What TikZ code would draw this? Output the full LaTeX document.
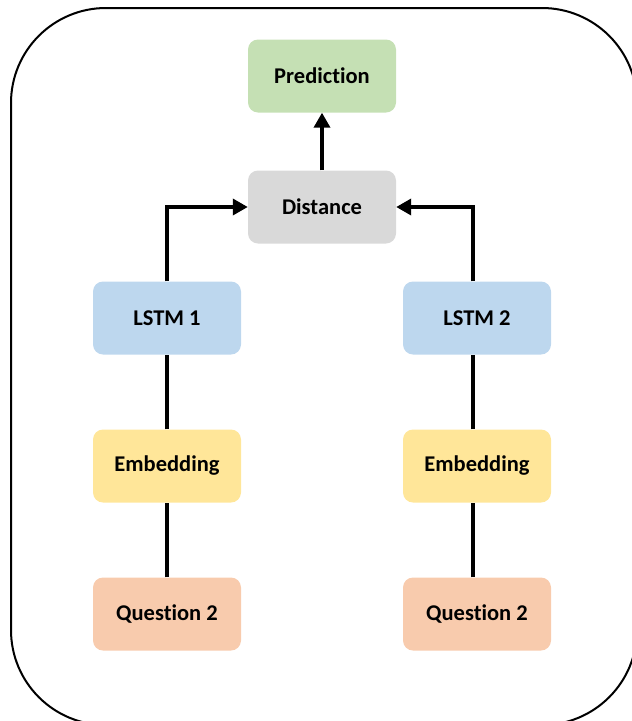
\documentclass[tikz,border=0pt]{standalone}
\usepackage{fontspec}
\setmainfont[Ligatures=NoCommon]{Carlito}
\usepackage{tikz}
\usetikzlibrary{arrows.meta}
\definecolor{pred}{RGB}{197, 224, 180}
\definecolor{dist}{RGB}{217, 217, 217}
\definecolor{lstm}{RGB}{189, 215, 238}
\definecolor{emb}{RGB}{255, 230, 153}
\definecolor{quest}{RGB}{248, 203, 173}

\begin{document}
\begin{tikzpicture}[x=1pt, y=-1pt,
    box/.style={rounded corners=10pt, minimum width=148pt, minimum height=73pt,
            inner sep=0pt, font=\fontsize{22.5}{26}\selectfont\bfseries},
    link/.style={line width=3.5pt},
    flow/.style={line width=3.5pt, -{Triangle[width=16pt, length=15pt]}}]

    \useasboundingbox (0, 0) rectangle (632, 721);
    \begin{scope}
        \clip (0, 0) rectangle (632, 721);
        \draw[line width=2pt, rounded corners=95pt] (11, 8) rectangle (637, 725);
    \end{scope}

      \node[box, fill=pred] (pred) at (322, 76) {Prediction};
      \node[box, fill=dist] (dist) at (322, 207) {Distance};

      \node[box, fill=lstm] (lstmA) at (167, 318) {LSTM 1};
      \node[box, fill=emb] (embA) at (167, 466) {Embedding};
      \node[box, fill=quest] (questA) at (167, 614) {Question 2};

      \node[box, fill=lstm] (lstmB) at (477, 318) {LSTM 2};
      \node[box, fill=emb] (embB) at (477, 466) {Embedding};
      \node[box, fill=quest] (questB) at (477, 614) {Question 2};

      % inputs up to the lstm cells
      \draw[link] (questA) -- (embA);
      \draw[link] (embA) -- (lstmA);
      \draw[link] ([xshift=-4pt]questB.north) -- ([xshift=-4pt]embB.south);
      \draw[link] ([xshift=-4pt]embB.north) -- ([xshift=-4pt]lstmB.south);

      \draw[flow] (lstmA.north) |- (dist.west);
      \draw[flow] ([xshift=-4pt]lstmB.north) |- (dist.east);
      \draw[flow] (dist) -- (pred);

\end{tikzpicture}
\end{document}
